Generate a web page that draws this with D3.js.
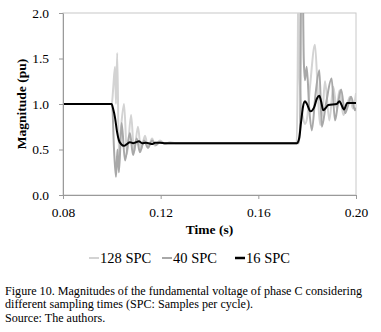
<!DOCTYPE html>
<html>
<head>
<meta charset="utf-8">
<script src="https://cdn.jsdelivr.net/npm/d3@7"></script>
<style>
  body { margin: 0; background: #fff; }
</style>
</head>
<body>
<svg id="chart" width="381" height="332"></svg>
<script>
// time (s), magnitude (pu)
const spc128 = [
    [0.08, 1], [0.1000, 1], [0.1005, 1.15], [0.1013, 1.41], [0.1017, 1.0], [0.1022, 1.56],
    [0.1029, 0.42], [0.1038, 0.75], [0.1050, 1.0], [0.1062, 0.45], [0.1079, 0.88], [0.1091, 0.47],
    [0.1107, 0.75], [0.1119, 0.5], [0.1136, 0.65], [0.1148, 0.52], [0.1165, 0.62], [0.1177, 0.54],
    [0.1197, 0.6], [0.1218, 0.56], [0.1238, 0.58], [0.1260, 0.57], [0.1757, 0.57], [0.1761, 1.3],
    [0.1764, 2.5], [0.1768, 1.4], [0.1775, 1.0], [0.1783, 0.85], [0.1791, 0.78], [0.1800, 0.85],
    [0.1812, 1.2], [0.1832, 1.65], [0.1844, 1.1], [0.1853, 0.77], [0.1864, 0.95], [0.1873, 1.25],
    [0.1891, 0.82], [0.1907, 1.19], [0.1921, 0.95], [0.1932, 1.15], [0.1948, 0.88], [0.1960, 0.95],
    [0.1975, 1.08], [0.1987, 0.95], [0.2000, 1.12]
];
const spc40 = [
    [0.08, 1], [0.1001, 1], [0.1009, 0.5], [0.1017, 0.2], [0.1023, 0.5], [0.1029, 0.25],
    [0.1040, 0.79], [0.1054, 0.38], [0.1074, 0.68], [0.1087, 0.44], [0.1102, 0.62], [0.1115, 0.47],
    [0.1132, 0.6], [0.1148, 0.52], [0.1165, 0.6], [0.1181, 0.55], [0.1197, 0.58], [0.1215, 0.57],
    [0.1765, 0.57], [0.1771, 0.75], [0.1776, 2.5], [0.1781, 2.5], [0.1786, 1.5], [0.1791, 1.26],
    [0.1798, 1.41], [0.1809, 0.93], [0.1819, 0.71], [0.1834, 1.1], [0.1850, 1.37], [0.1860, 0.75],
    [0.1877, 1.0], [0.1900, 1.28], [0.1914, 0.82], [0.1926, 1.0], [0.1939, 1.16], [0.1955, 0.9],
    [0.1967, 0.98], [0.1980, 1.08], [0.1996, 0.93], [0.2000, 0.96]
];
const spc16 = [
    [0.08, 1], [0.0999, 1], [0.1005, 0.95], [0.1013, 0.85], [0.1021, 0.7], [0.1029, 0.6],
    [0.1038, 0.56], [0.1050, 0.54], [0.1062, 0.56], [0.1074, 0.58], [0.1087, 0.57], [0.1099, 0.58],
    [0.1111, 0.59], [0.1124, 0.57], [0.1140, 0.575], [0.1156, 0.565], [0.1165, 0.56], [0.1177, 0.575],
    [0.1197, 0.575], [0.1220, 0.57], [0.1758, 0.57], [0.1767, 0.62], [0.1775, 0.8], [0.1783, 0.97],
    [0.1791, 1.03], [0.1799, 1.0], [0.1814, 0.92], [0.1828, 0.96], [0.1840, 1.06], [0.1850, 1.09],
    [0.1857, 1.03], [0.1866, 0.93], [0.1877, 0.96], [0.1887, 0.99], [0.1921, 1.0], [0.1932, 1.03],
    [0.1939, 1.0], [0.1951, 0.94], [0.1964, 1.01], [0.2000, 1.01]
];

const series = [
    { name: "128 SPC", data: spc128, color: "#d3d3d3", width: 2 },
    { name: "40 SPC", data: spc40, color: "#a8a8a8", width: 2 },
    { name: "16 SPC", data: spc16, color: "#000000", width: 2 }
];
const xTicks = [0.08, 0.12, 0.16, 0.20];
const yTicks = [0, 0.5, 1.0, 1.5, 2.0];
const caption = [
    "Figure 10. Magnitudes of the fundamental voltage of phase C considering",
    "different sampling times (SPC: Samples per cycle).",
    "Source: The authors."
];

const serif = '"Liberation Serif", "Times New Roman", Times, "DejaVu Serif", serif';

const svg = d3.select("#chart").attr("font-family", serif);
const plotLeft = 63, plotRight = 356, plotTop = 13, plotBottom = 195;

const x = d3.scaleLinear().domain([0.08, 0.20]).range([plotLeft, plotRight]);
const y = d3.scaleLinear().domain([0, 2]).range([plotBottom, plotTop]);

svg.append("rect").attr("width", 381).attr("height", 332).attr("fill", "#fff");

// frame
svg.append("rect")
    .attr("x", plotLeft).attr("y", plotTop)
    .attr("width", plotRight - plotLeft).attr("height", plotBottom - plotTop)
    .attr("fill", "none").attr("stroke", "#c8c8c8");

svg.append("clipPath").attr("id", "plot")
    .append("rect")
    .attr("x", plotLeft).attr("y", plotTop)
    .attr("width", plotRight - plotLeft).attr("height", plotBottom - plotTop);

const line = d3.line()
    .x(d => x(d[0]))
    .y(d => y(d[1]))
    .curve(d3.curveMonotoneX);

svg.append("g")
    .attr("clip-path", "url(#plot)")
    .selectAll("path")
    .data(series)
    .enter().append("path")
    .attr("d", d => line(d.data))
    .attr("fill", "none")
    .attr("stroke", d => d.color)
    .attr("stroke-width", d => d.width)
    .attr("stroke-linejoin", "round");

// axes
const xAxis = svg.append("g")
    .attr("transform", "translate(0," + plotBottom + ")")
    .call(d3.axisBottom(x).tickValues(xTicks).tickFormat(d3.format(".2f")).tickSize(4).tickSizeOuter(0));

const yAxis = svg.append("g")
    .attr("transform", "translate(" + plotLeft + ",0)")
    .call(d3.axisLeft(y).tickValues(yTicks).tickFormat(d3.format(".1f")).tickSize(4).tickSizeOuter(0));

[xAxis, yAxis].forEach(a => {
    a.attr("font-family", serif).attr("font-size", 13.5);
    a.select(".domain").attr("stroke", "#9a9a9a");
    a.selectAll(".tick line").attr("stroke", "#9a9a9a");
    a.selectAll(".tick text").attr("fill", "#000");
});
xAxis.selectAll(".tick text").attr("dy", "0.71em").attr("y", 12);
yAxis.selectAll(".tick text").attr("x", -14);

svg.append("text")
    .attr("x", (plotLeft + plotRight) / 2).attr("y", 234)
    .attr("text-anchor", "middle")
    .attr("font-size", 13.5).attr("font-weight", "bold")
    .text("Time (s)");

svg.append("text")
    .attr("transform", "translate(26," + (plotTop + plotBottom) / 2 + ") rotate(-90)")
    .attr("text-anchor", "middle")
    .attr("font-size", 13.5).attr("font-weight", "bold")
    .text("Magnitude (pu)");

// legend
const legendX = [89, 162, 235];
const legend = svg.append("g")
    .selectAll("g")
    .data(series)
    .enter().append("g")
    .attr("transform", (d, i) => "translate(" + legendX[i] + ",258)");

legend.append("line")
    .attr("x1", 0).attr("x2", 10)
    .attr("stroke", d => d.color).attr("stroke-width", d => d.width + (d.color === "#000000" ? 0.5 : 0));

legend.append("text")
    .attr("x", 11).attr("y", 4.8)
    .attr("font-size", 14.5)
    .text(d => d.name);

svg.append("g")
    .selectAll("text")
    .data(caption)
    .enter().append("text")
    .attr("x", 5)
    .attr("y", (d, i) => 294.5 + i * 13.8)
    .attr("font-size", 12.1)
    .text(d => d);
</script>
</body>
</html>
